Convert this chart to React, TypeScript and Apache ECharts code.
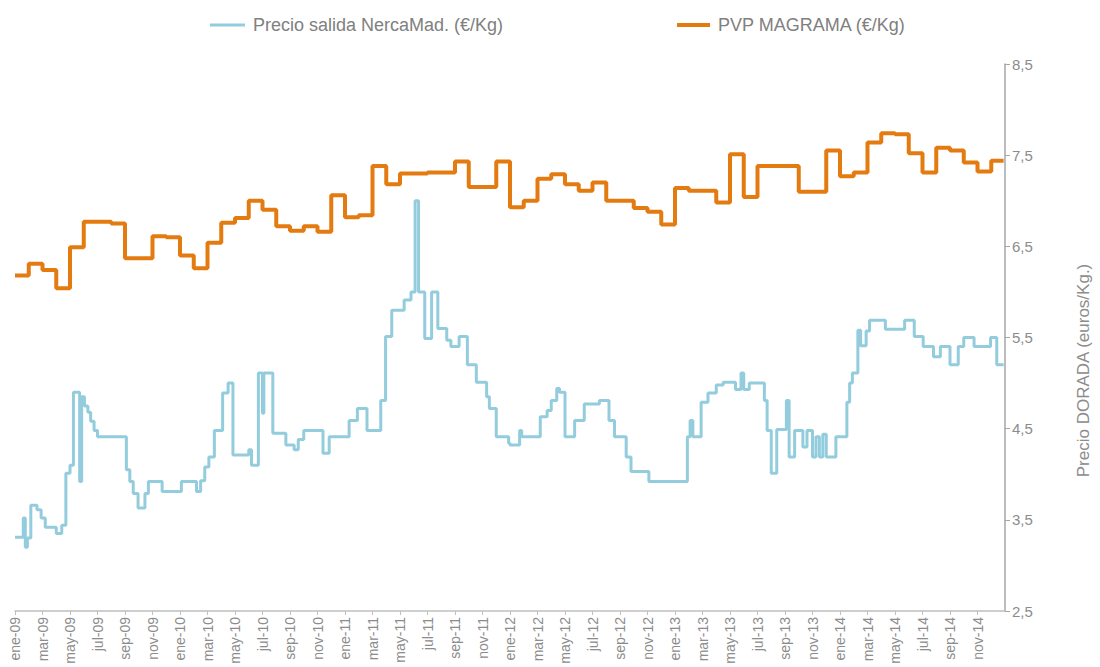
import React, { useEffect, useRef } from "react";
import * as echarts from "echarts";

// Spanish month abbreviations used for the x-axis tick labels
const monthNames = ["ene", "feb", "mar", "abr", "may", "jun", "jul", "ago", "sep", "oct", "nov", "dic"];
const firstYear = 2009;
const totalMonths = 72;

const blueName = "Precio salida NercaMad. (€/Kg)";
const orangeName = "PVP MAGRAMA (€/Kg)";
const yAxisName = "Precio DORADA (euros/Kg.)";

// PVP MAGRAMA: one value per month, ene-09 .. dic-14
const orangeValues = [
  6.18, 6.31, 6.24, 6.04, 6.49, 6.77, 6.77, 6.75, 6.37, 6.37, 6.61, 6.6,
  6.4, 6.26, 6.54, 6.76, 6.81, 7.0, 6.9, 6.72, 6.67, 6.72, 6.66, 7.06,
  6.82, 6.84, 7.38, 7.18, 7.3, 7.3, 7.31, 7.31, 7.43, 7.15, 7.15, 7.43,
  6.93, 7.0, 7.24, 7.29, 7.18, 7.11, 7.2, 7.0, 7.0, 6.92, 6.88, 6.74,
  7.14, 7.11, 7.11, 6.98, 7.51, 7.04, 7.38, 7.38, 7.38, 7.1, 7.1, 7.55,
  7.27, 7.31, 7.64, 7.74, 7.73, 7.52, 7.31, 7.58, 7.55, 7.42, 7.32, 7.44,
];

// Precio salida MercaMadrid: price changes, time in months since ene-09
const blueTimes = [
  0, 0.6, 0.75, 0.9, 1.15, 1.6, 1.9, 2.2, 3.0, 3.4, 3.7, 4.0, 4.25, 4.7, 4.85, 5.05, 5.3, 5.5, 5.75, 6.0,
  8.1, 8.35, 8.6, 8.95, 9.45, 9.7, 10.7, 12.1, 13.2, 13.5, 13.8, 14.1, 14.5, 15.1, 15.5, 15.85, 17.0, 17.2,
  17.7, 18.0, 18.1, 18.75, 19.7, 20.3, 20.6, 21.0, 22.4, 22.85, 24.3, 24.9, 25.6, 26.6, 26.95, 27.4, 28.3,
  28.8, 29.1, 29.35, 29.8, 30.3, 30.75, 31.4, 31.7, 32.3, 32.9, 33.55, 34.3, 34.5, 35.0, 35.9, 36.0, 36.7,
  36.85, 38.2, 38.7, 39.0, 39.4, 39.6, 40.0, 40.7, 41.4, 42.5, 43.2, 43.6, 44.45, 44.8, 46.1, 48.9, 49.1,
  49.3, 49.9, 50.4, 51.0, 51.5, 52.4, 52.8, 53.0, 53.4, 54.5, 54.7, 55.0, 55.4, 56.1, 56.3, 56.7, 57.3,
  57.6, 58.0, 58.25, 58.5, 58.75, 59.0, 59.7, 60.5, 60.7, 60.9, 61.3, 61.5, 61.9, 62.15, 63.3, 64.7, 65.4,
  66.05, 66.8, 67.3, 68.0, 68.6, 69.0, 69.75, 70.95, 71.4, 71.9,
];
const blueValues = [
  3.31, 3.52, 3.2, 3.3, 3.66, 3.61, 3.52, 3.42, 3.35, 3.44, 4.01, 4.1, 4.9, 3.92, 4.85, 4.75, 4.68, 4.58, 4.48, 4.41,
  4.05, 3.92, 3.79, 3.63, 3.79, 3.92, 3.81, 3.92, 3.81, 3.93, 4.08, 4.19, 4.48, 4.89, 5.0, 4.21, 4.27, 4.1,
  5.11, 4.67, 5.11, 4.45, 4.32, 4.27, 4.38, 4.48, 4.23, 4.41, 4.59, 4.72, 4.48, 4.81, 5.51, 5.8, 5.91,
  6.0, 7.0, 6.0, 5.49, 6.0, 5.6, 5.47, 5.4, 5.51, 5.2, 5.01, 4.85, 4.72, 4.41, 4.34, 4.32, 4.48,
  4.41, 4.63, 4.7, 4.81, 4.94, 4.9, 4.41, 4.59, 4.77, 4.81, 4.59, 4.41, 4.19, 4.03, 3.92, 4.41, 4.59,
  4.41, 4.79, 4.89, 4.98, 5.01, 4.93, 5.11, 4.93, 5.0, 4.81, 4.48, 4.01, 4.49, 4.81, 4.19, 4.48, 4.3,
  4.48, 4.19, 4.41, 4.19, 4.44, 4.19, 4.41, 4.79, 5.0, 5.11, 5.58, 5.41, 5.57, 5.69, 5.59, 5.69, 5.51,
  5.4, 5.29, 5.4, 5.2, 5.4, 5.5, 5.4, 5.5, 5.2, 5.2,
];
const seriesEnd = 71.9;

const monthLabel = (m: number) => {
  const idx = Math.round(m);
  if (idx >= totalMonths) return "";
  const yy = (firstYear + Math.floor(idx / 12)) % 100;
  return monthNames[idx % 12] + "-" + String(yy).padStart(2, "0");
};

export default function App() {
  const ref = useRef<HTMLDivElement>(null);
  useEffect(() => {
    if (!ref.current) return;
    const chart = echarts.init(ref.current, undefined, { renderer: "svg" });
    const orangeData: [number, number][] = orangeValues.map((v, i) => [i, v]);
    orangeData.push([seriesEnd, orangeValues[orangeValues.length - 1]]);
    const blueData: [number, number][] = blueTimes.map((t, i) => [t, blueValues[i]]);
    const font = "'Liberation Sans', Arial, sans-serif";
    chart.setOption({
      animation: false,
      backgroundColor: "#ffffff",
      textStyle: { fontFamily: font },
      legend: [
        {
          data: [{ name: blueName, icon: "rect" }],
          left: 205,
          top: 11,
          itemWidth: 35,
          itemHeight: 3,
          textStyle: { color: "#808080", fontSize: 18, fontFamily: font, padding: [0, 0, 0, 3] },
        },
        {
          data: [{ name: orangeName, icon: "rect" }],
          left: 672,
          top: 11,
          itemWidth: 33,
          itemHeight: 4,
          textStyle: { color: "#808080", fontSize: 18, fontFamily: font, padding: [0, 0, 0, 3] },
        },
      ],
      grid: { left: 15, right: 85, top: 64, bottom: 56, containLabel: false },
      xAxis: {
        type: "value",
        min: 0,
        max: totalMonths,
        interval: 2,
        axisLine: { show: true, onZero: false, lineStyle: { color: "#bfbfbf", width: 1.5 } },
        axisTick: { show: true, length: 4, lineStyle: { color: "#bfbfbf" } },
        splitLine: { show: false },
        axisLabel: {
          rotate: 90,
          formatter: (v: number) => monthLabel(v),
          color: "#8c8c8c",
          fontSize: 14,
          fontFamily: font,
          margin: 6,
          showMaxLabel: false,
        },
      },
      yAxis: {
        type: "value",
        position: "right",
        min: 2.5,
        max: 8.5,
        interval: 1,
        name: yAxisName,
        nameLocation: "middle",
        nameRotate: 90,
        nameGap: 70,
        nameTextStyle: { color: "#8c8c8c", fontSize: 17, fontFamily: font, padding: [0, 66, 0, 0] },
        axisLine: { show: true, onZero: false, lineStyle: { color: "#a6a6a6", width: 1.5 } },
        axisTick: { show: true, length: 5, lineStyle: { color: "#a6a6a6" } },
        splitLine: { show: false },
        axisLabel: {
          formatter: (v: number) => v.toFixed(1).replace(".", ","),
          color: "#8c8c8c",
          fontSize: 15,
          fontFamily: font,
          margin: 7,
        },
      },
      series: [
        {
          name: blueName,
          type: "line",
          step: "end",
          symbol: "none",
          data: blueData,
          color: "#93CDDD",
          lineStyle: { color: "#93CDDD", width: 3 },
        },
        {
          name: orangeName,
          type: "line",
          step: "end",
          symbol: "none",
          data: orangeData,
          color: "#E47B10",
          lineStyle: { color: "#E47B10", width: 4 },
        },
      ],
    });
    return () => chart.dispose();
  }, []);
  return (
    <div
      ref={ref}
      style={{ position: "fixed", left: 0, top: 0, width: 1100, height: 667, background: "#fff" }}
    />
  );
}
